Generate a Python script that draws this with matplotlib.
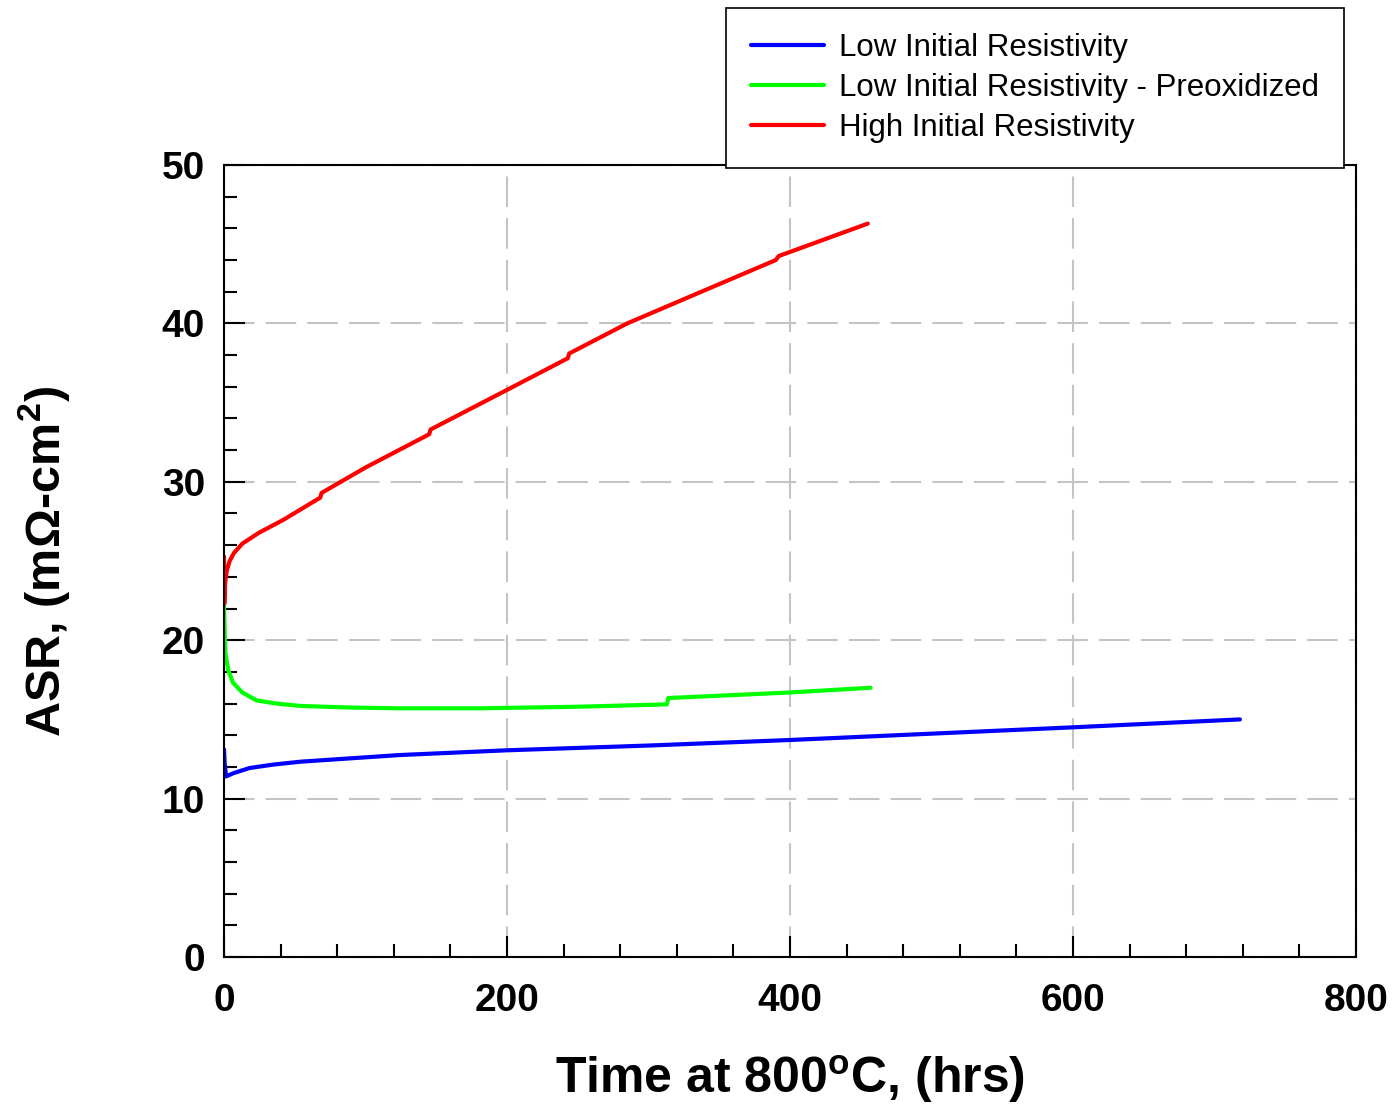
import matplotlib
matplotlib.use("Agg")
import matplotlib.pyplot as plt
from matplotlib.ticker import MultipleLocator

plt.rcParams["font.family"] = ["Liberation Sans", "DejaVu Sans"]
plt.rcParams["mathtext.default"] = "regular"
plt.rcParams["lines.scale_dashes"] = False

# values
low_t = [0, 0.5, 1.5, 6.5, 18, 35, 54, 89, 124, 200, 300, 400, 500, 600, 718]
low_asr = [13.1, 12.2, 11.4, 11.6, 11.93, 12.15, 12.33, 12.54, 12.75, 13.05, 13.35, 13.7, 14.1, 14.5, 15.0]

preox_t = [0, 0.5, 1, 3, 6.5, 13, 23, 37, 54, 89, 124, 180, 250, 313, 314, 400, 457]
preox_asr = [22.2, 20.5, 19.2, 18.1, 17.3, 16.7, 16.2, 16.0, 15.85, 15.75, 15.7, 15.7, 15.8, 15.95, 16.35, 16.7, 17.0]

high_t = [0, 0.2, 0.8, 2, 4, 7, 13, 25, 42, 68, 69, 100, 145, 146, 200, 243, 244, 285, 340, 390, 392, 455]
high_asr = [25.3, 22.3, 23.6, 24.4, 25.0, 25.5, 26.1, 26.8, 27.6, 29.0, 29.3, 30.9, 33.0, 33.3, 35.8, 37.8, 38.1,
            40.0, 42.1, 44.0, 44.25, 46.3]

series = [
    ("Low Initial Resistivity", low_t, low_asr, "#0000ff"),
    ("Low Initial Resistivity - Preoxidized", preox_t, preox_asr, "#00ff00"),
    ("High Initial Resistivity", high_t, high_asr, "#ff0000"),
]

fig = plt.figure(figsize=(13.93, 11.11), dpi=100)
ax = fig.add_axes([0.1608, 0.1386, 0.8126, 0.7129])

for label, t, asr, color in series:
    ax.plot(t, asr, color=color, linewidth=3, label=label, solid_capstyle="round")

ax.set_xlim(0, 800)
ax.set_ylim(0, 50)
ax.xaxis.set_major_locator(MultipleLocator(200))
ax.xaxis.set_minor_locator(MultipleLocator(40))
ax.yaxis.set_major_locator(MultipleLocator(10))
ax.yaxis.set_minor_locator(MultipleLocator(2))

ax.grid(True, which="major", color="#c4c4c4", linewidth=1.5, linestyle=(0, (22, 8)))
ax.set_axisbelow(True)

for sp in ax.spines.values():
    sp.set_linewidth(1.5)

ax.tick_params(which="both", direction="in", width=1.5, top=False, right=False)
ax.tick_params(which="major", length=15)
ax.tick_params(which="minor", length=9.5)
ax.tick_params(axis="y", which="major", pad=13.5, labelsize=28)
ax.tick_params(axis="x", which="major", pad=19, labelsize=28)
for lab in ax.get_xticklabels() + ax.get_yticklabels():
    lab.set_fontweight("bold")

ax.set_xlabel(r"Time at 800$^\mathregular{o}$C, (hrs)", fontsize=36, fontweight="bold", labelpad=24)
ax.set_ylabel(r"ASR, (mΩ-cm$^\mathregular{2}$)", fontsize=35, fontweight="bold")
ax.yaxis.set_label_coords(-0.134, 0.5)

leg = fig.legend(loc="upper right", bbox_to_anchor=(1344 / 1393, 1 - 8 / 1111), fontsize=22.5,
                 frameon=True, fancybox=False, framealpha=1, edgecolor="black",
                 handlelength=2.35, handletextpad=0.48, labelspacing=0.32, borderpad=0.8,
                 borderaxespad=0)
leg.get_frame().set_linewidth(1.2)

fig.savefig("out.png", dpi=100)
